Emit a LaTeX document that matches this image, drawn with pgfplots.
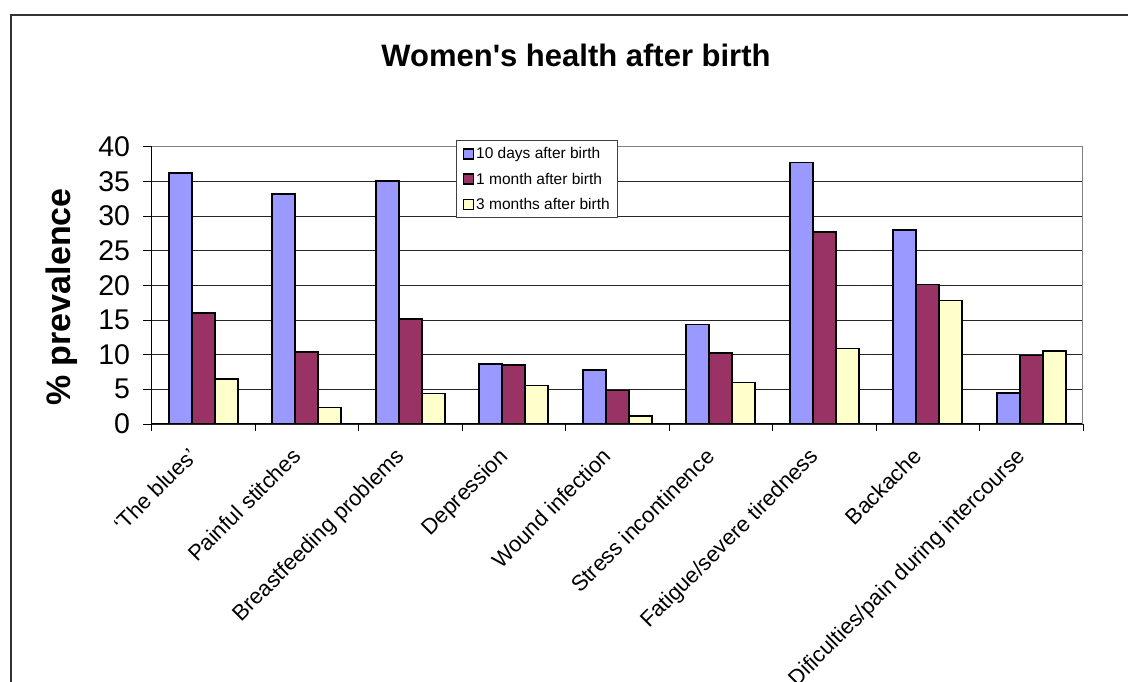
\documentclass[border=0pt]{standalone}
\usepackage{pgfplots}
\pgfplotsset{compat=1.18}
\usepackage{fontspec}
\setmainfont{Liberation Sans}
\definecolor{cblue}{HTML}{9999FF}
\definecolor{cred}{HTML}{993366}
\definecolor{cyel}{HTML}{FFFFCC}
\begin{document}
\begin{tikzpicture}
\useasboundingbox (0,0) rectangle (1128pt,682pt);
\draw[line width=2pt, black!80] (11pt,0pt) -- (11pt,666.5pt) -- (1128pt,666.5pt);
\begin{axis}[
  at={(151.5pt,258pt)}, anchor=south west,
  scale only axis, width=931.5pt, height=277.3pt,
  ybar=0pt, bar width=23pt,
  xmin=0, xmax=9, ymin=0, ymax=40,
  axis x line*=bottom, axis y line*=left,
  axis line style={black, line width=1pt},
  ytick={0,5,...,40},
  xtick={0.5,1.5,...,8.5},
  xticklabels={`The blues', Painful stitches, Breastfeeding problems, Depression, Wound infection, Stress incontinence, Fatigue/severe tiredness, Backache, Dificulties/pain during intercourse},
  minor xtick={0,1,...,9},
  tick align=outside,
  major tick length=8pt, minor tick length=7pt,
  xtick style={draw=none},
  minor x tick style={draw=black, line width=0.8pt},
  ytick style={black, line width=0.8pt},
  ymajorgrids, major grid style={black!85, line width=0.8pt},
  /pgf/number format/assume math mode=true,
  yticklabel style={font=\fontsize{28.5}{30}\selectfont, xshift=-10pt},
  xticklabel style={xshift=-16pt, yshift=-13pt, rotate=45, anchor=north east, font=\fontsize{22}{24}\selectfont, inner sep=1pt},
  ylabel={\% prevalence},
  every axis y label/.style={at={(axis description cs:-0.096,0.458)}, rotate=90, anchor=center, font=\bfseries\fontsize{34}{36}\selectfont},
  title={Women\textquotesingle s health after birth},
  title style={at={(axis description cs:0.4557,1.309)}, anchor=center, font=\bfseries\fontsize{31}{34}\selectfont},
  legend style={at={(rel axis cs:0.327,1.024)}, anchor=north west, draw=black!75, line width=1.2pt, font=\fontsize{15.5}{18}\selectfont, row sep=8.5pt, inner xsep=6pt, inner ysep=5pt, cells={anchor=west}},
  legend image code/.code={\draw[#1, draw=black, line width=1.5pt] (1pt,-5pt) rectangle (11pt,5pt);},
]
\addplot[fill=cblue, draw=black, line width=1.6pt] coordinates {(0.5,36.2) (1.5,33.2) (2.5,35.05) (3.5,8.66) (4.5,7.8) (5.5,14.35) (6.5,37.7) (7.5,28.0) (8.5,4.43)};
\addplot[fill=cred, draw=black, line width=1.6pt] coordinates {(0.5,16.05) (1.5,10.4) (2.5,15.15) (3.5,8.47) (4.5,4.86) (5.5,10.24) (6.5,27.66) (7.5,20.1) (8.5,9.86)};
\addplot[fill=cyel, draw=black, line width=1.6pt] coordinates {(0.5,6.45) (1.5,2.4) (2.5,4.4) (3.5,5.53) (4.5,1.15) (5.5,6.01) (6.5,10.87) (7.5,17.8) (8.5,10.49)};
\legend{10 days after birth, 1 month after birth, 3 months after birth}
\draw[black!50, line width=1pt] (rel axis cs:0,1) -- (rel axis cs:1,1) -- (rel axis cs:1,0);
\end{axis}
\end{tikzpicture}
\end{document}
